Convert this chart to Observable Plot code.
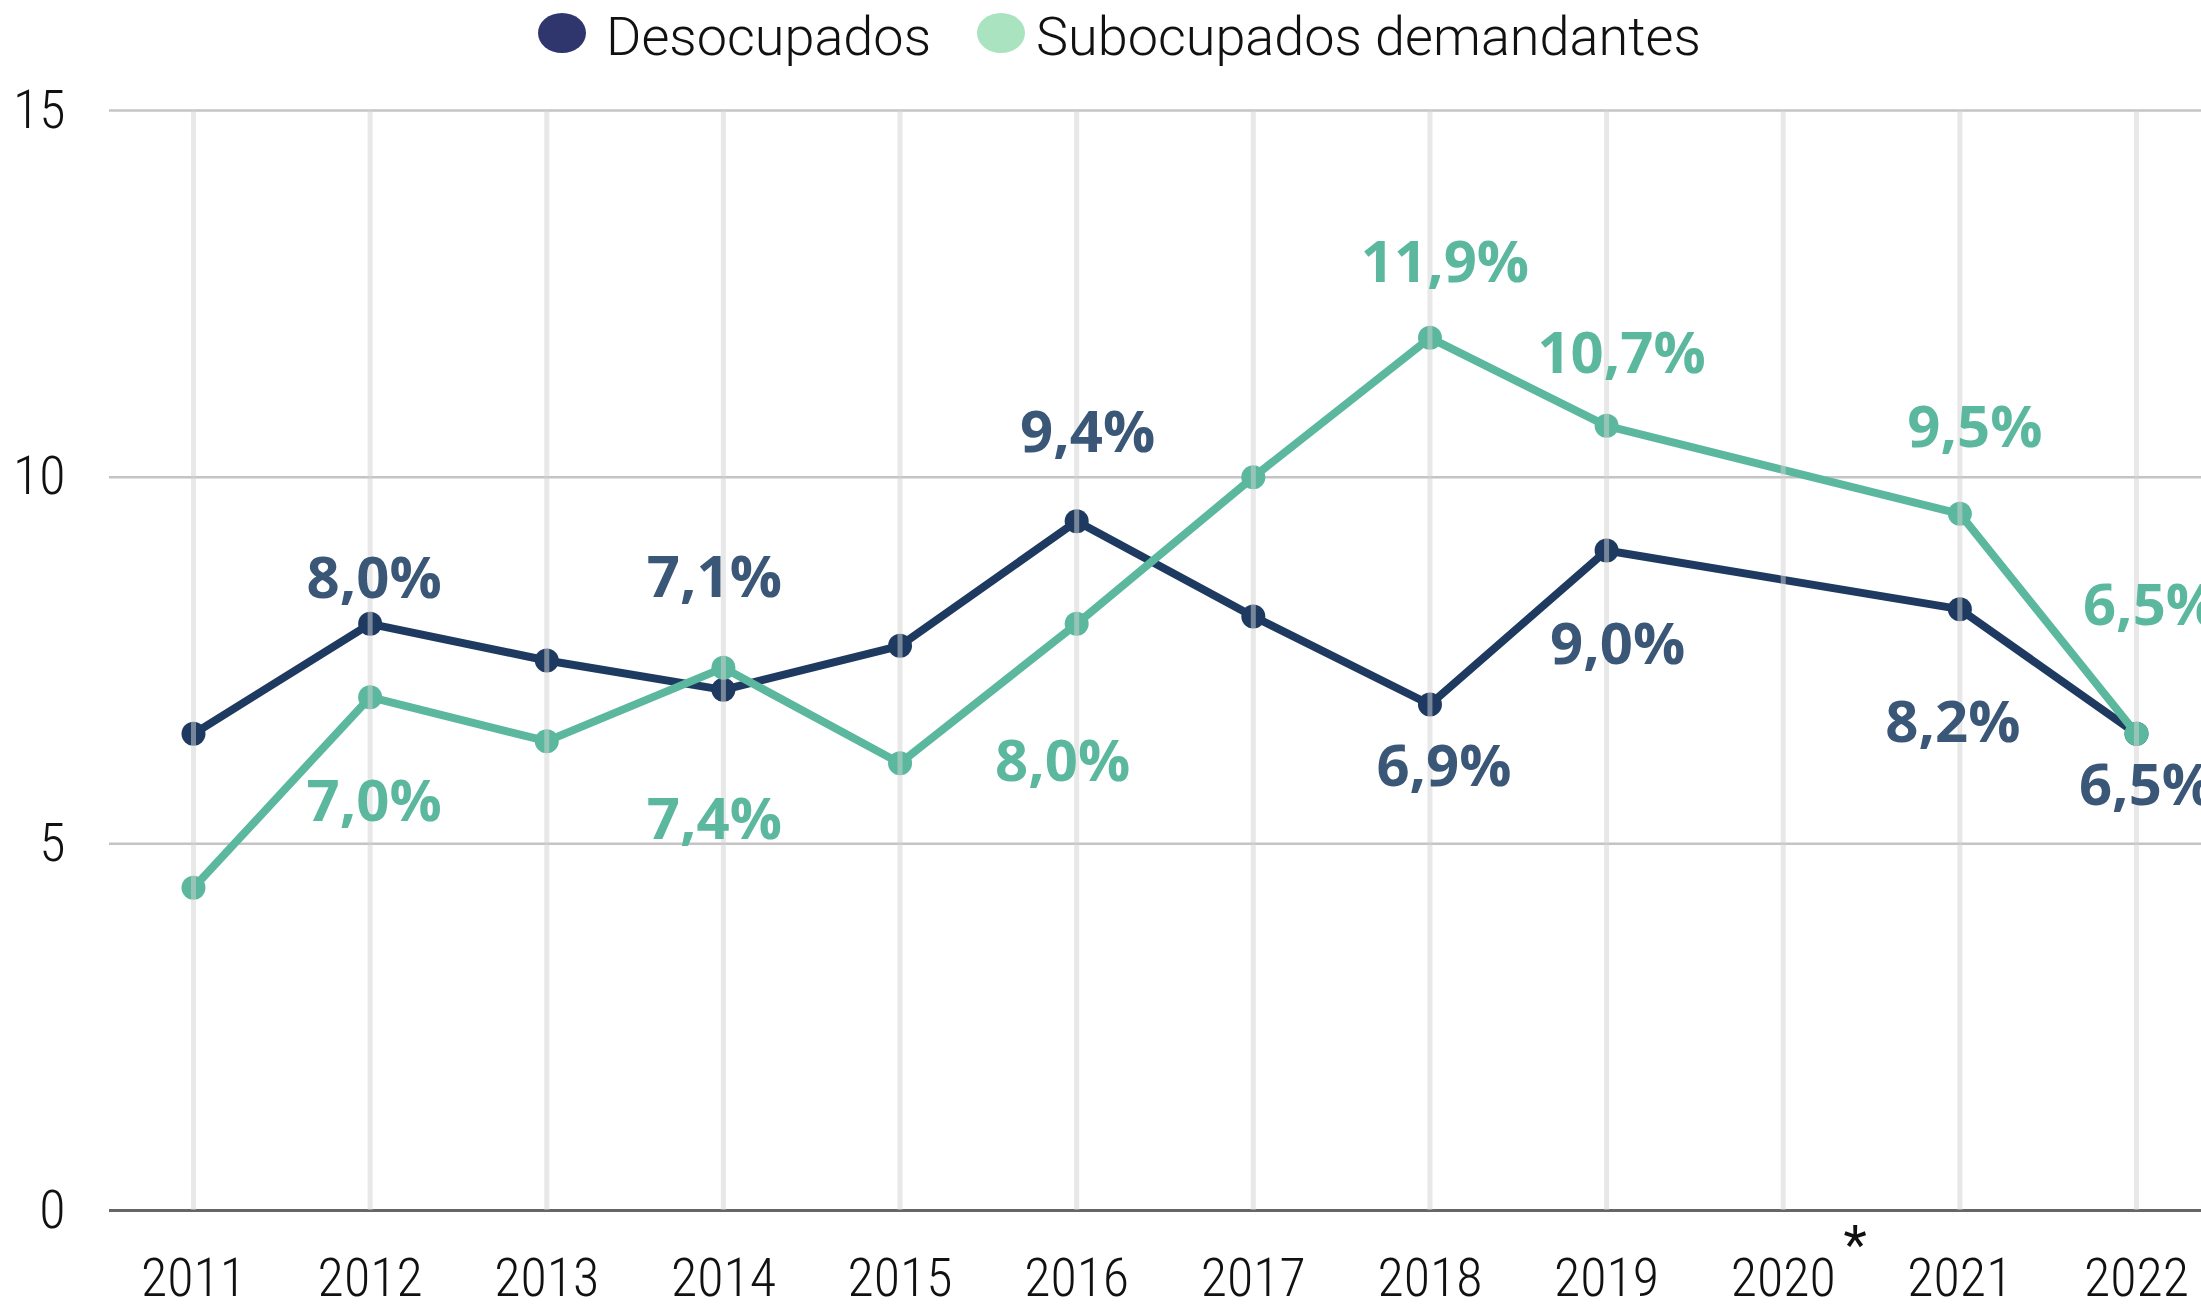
<!DOCTYPE html>
<html>
<head>
<meta charset="utf-8">
<script src="https://cdn.jsdelivr.net/npm/d3@7"></script>
<script src="https://cdn.jsdelivr.net/npm/@observablehq/plot@0.6"></script>
<style>
  html, body { margin: 0; padding: 0; background: #fff; overflow: hidden; }
  #legend { position: relative; width: 2201px; height: 80px; font-family: Roboto, "Noto Sans", sans-serif; font-weight: 300; font-size: 54px; color: #111; }
  #legend .sw { position: absolute; width: 48px; height: 40px; border-radius: 50%; top: 13px; }
  #legend .lb { position: absolute; top: 5px; line-height: normal; white-space: nowrap; }
  #chart svg { display: block; }
</style>
</head>
<body>
<div id="legend"></div>
<div id="chart"></div>
<script>
// ---- data ----
const seriesNames = ["Desocupados", "Subocupados demandantes"];
const years = [2011, 2012, 2013, 2014, 2015, 2016, 2017, 2018, 2019, 2021, 2022];
const desocupados = [6.5, 8.0, 7.5, 7.1, 7.7, 9.4, 8.1, 6.9, 9.0, 8.2, 6.5];
const subocupados = [4.4, 7.0, 6.4, 7.4, 6.1, 8.0, 10.0, 11.9, 10.7, 9.5, 6.5];
const tickYears = [2011, 2012, 2013, 2014, 2015, 2016, 2017, 2018, 2019, 2020, 2021, 2022];
const yTicks = [0, 5, 10, 15];
const labeledYears = [2012, 2014, 2016, 2018, 2019, 2021, 2022];
const footnoteYear = 2020;

// ---- label placement (pixel offsets from each point) ----
const desLabelDx = [4, -9, 11, 14, 11, -7, 10];
const desLabelDy = [-44, -111, -88, 63, 95, 114, 53];
const subLabelDx = [4, -9, -14, 15, 15, 15, 14];
const subLabelDy = [105, 153, 139, -74, -71, -85, -127];

// ---- styles ----
const colDesLine = "#1f3a60";
const colDesText = "#3b5778";
const colSubLine = "#5bb89e";
const colSubText = "#5bb89e";
const legendColors = ["#2f366e", "#a9e3bf"];

const fmt = v => d3.format(".1f")(v).replace(".", ",") + "%";

const desData = years.map((x, i) => ({x, y: desocupados[i]}));
const subData = years.map((x, i) => ({x, y: subocupados[i]}));

function labelMarks(data, dxs, dys, fill) {
  return labeledYears.map((yr, i) => {
    const d = data.find(p => p.x === yr);
    return Plot.text([d], {
      x: "x", y: "y", text: p => fmt(p.y),
      dx: dxs[i], dy: dys[i], fill,
      fontFamily: "'Open Sans', 'Noto Sans', sans-serif",
      fontWeight: 700, fontSize: 58
    });
  });
}

const tickFont = "'Liberation Sans Narrow', 'Roboto Condensed', 'DejaVu Sans Condensed', sans-serif";

const chart = Plot.plot({
  width: 2201,
  height: 1226,
  marginLeft: 109,
  marginRight: 0,
  marginTop: 30,
  marginBottom: 96,
  style: {fontFamily: tickFont, fontSize: "54px", color: "#111", background: "#fff", overflow: "visible"},
  x: {type: "linear", domain: [2011, 2022], range: [193, 2136]},
  y: {domain: [0, 15]},
  marks: [
    Plot.ruleY(yTicks.filter(t => t > 0), {stroke: "#c4c4c4", strokeWidth: 2.5}),
    Plot.ruleY([0], {stroke: "#666", strokeWidth: 3}),
    Plot.axisY(yTicks, {tickSize: 0, tickPadding: 44, label: null, tickFormat: d => String(d), fontSize: 54, fontFamily: tickFont, fontWeight: 300, fill: "#111"}),
    Plot.axisX(tickYears, {tickSize: 0, tickPadding: 47, label: null, tickFormat: d => String(d), fontSize: 54, fontFamily: tickFont, fontWeight: 300, fill: "#111"}),
    Plot.text([footnoteYear], {x: d => d, frameAnchor: "bottom", text: () => "*", dx: 72, dy: 52, fontSize: 54, fontFamily: tickFont, fill: "#111"}),
    Plot.line(desData, {x: "x", y: "y", stroke: colDesLine, strokeWidth: 8}),
    Plot.dot(desData, {x: "x", y: "y", r: 12, fill: colDesLine}),
    Plot.line(subData, {x: "x", y: "y", stroke: colSubLine, strokeWidth: 8}),
    Plot.dot(subData, {x: "x", y: "y", r: 12, fill: colSubLine}),
    Plot.ruleX(tickYears, {y1: 0, y2: 15, stroke: "#d2d2d2", strokeOpacity: 0.5, strokeWidth: 5}),
    ...labelMarks(desData, desLabelDx, desLabelDy, colDesText),
    ...labelMarks(subData, subLabelDx, subLabelDy, colSubText)
  ]
});
document.getElementById("chart").appendChild(chart);

// ---- legend ----
const legend = document.getElementById("legend");
const swLeft = [538, 977];
const lbLeft = [606, 1036];
seriesNames.forEach((name, i) => {
  const sw = document.createElement("span");
  sw.className = "sw";
  sw.style.left = swLeft[i] + "px";
  sw.style.background = legendColors[i];
  legend.appendChild(sw);
  const lb = document.createElement("span");
  lb.className = "lb";
  lb.style.left = lbLeft[i] + "px";
  lb.textContent = name;
  legend.appendChild(lb);
});
</script>
</body>
</html>
